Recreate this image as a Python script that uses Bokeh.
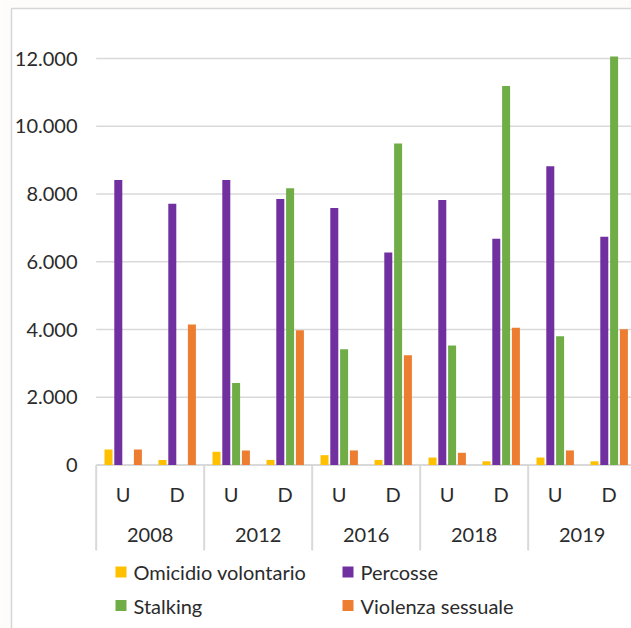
from bokeh.plotting import figure
from bokeh.models import Range1d
from bokeh.core.properties import value
from bokeh.embed import file_html
from bokeh.resources import INLINE

# --- data -------------------------------------------------------------
years = ["2008", "2012", "2016", "2018", "2019"]
sexes = ["U", "D"]
series_names = ["Omicidio volontario", "Percosse", "Stalking", "Violenza sessuale"]
series_colors = ["#FFC000", "#7030A0", "#70AD47", "#ED7D31"]

# one value per (year, sex) pair, in the order 2008U, 2008D, 2012U, ...
omicidio = [460, 150, 390, 150, 290, 150, 220, 110, 220, 110]
percosse = [8410, 7715, 8410, 7850, 7590, 6270, 7820, 6680, 8820, 6740]
stalking = [0, 0, 2420, 8170, 3420, 9490, 3530, 11190, 3800, 12060]
violenza = [460, 4150, 430, 3980, 430, 3240, 360, 4050, 430, 4010]
series_values = [omicidio, percosse, stalking, violenza]

y_ticks = [0, 2000, 4000, 6000, 8000, 10000, 12000]
y_tick_labels = ["0", "2.000", "4.000", "6.000", "8.000", "10.000", "12.000"]

# --- layout constants (pixels) ----------------------------------------
W, H = 631, 628
PX_PER_SLOT = 54.0          # width of one U/D slot
X0_PX = 95.7                # left edge of the category axis
ZERO_PX = 464.5             # pixel row of value 0
TOP_PX = 58.0               # pixel row of value 12000
K = (ZERO_PX - TOP_PX) / 12000.0

FONT = value("Lato")
FSIZE = "20px"
TXT = "#2b2b2b"
GRID = "#d9d9d9"

p = figure(
    width=W, height=H,
    x_range=Range1d(-X0_PX / PX_PER_SLOT, (W - X0_PX) / PX_PER_SLOT),
    y_range=Range1d(-(H - ZERO_PX) / K, ZERO_PX / K),
    x_axis_location=None, y_axis_location=None,
    toolbar_location=None, output_backend="svg",
    min_border=0, min_border_left=0, min_border_right=0,
    min_border_top=0, min_border_bottom=0,
)
p.outline_line_color = None
p.grid.grid_line_color = None
p.background_fill_color = "#fdfcfa"
p.border_fill_color = "#fdfcfa"
# pixel coordinate system for decorations (y grows downward)
p.extra_x_ranges = {"px": Range1d(0, W)}
p.extra_y_ranges = {"px": Range1d(H, 0)}

# chart area panel
p.quad(left=[11], right=[W + 10], top=[8], bottom=[H + 10],
       fill_color="white", line_color="#d6d6d6", line_width=1.5,
       x_range_name="px", y_range_name="px")

n_slots = len(years) * len(sexes)

# horizontal gridlines and axis line
grid_vals = y_ticks[1:]
p.segment(x0=[0] * len(grid_vals), x1=[n_slots + 1] * len(grid_vals),
          y0=grid_vals, y1=grid_vals, line_color=GRID, line_width=1.5)
p.segment(x0=[0], x1=[n_slots + 1], y0=[0], y1=[0],
          line_color=GRID, line_width=2)

# group separators below the axis
sep_x = [2 * i for i in range(len(years) + 1)]
p.segment(x0=sep_x, x1=sep_x, y0=[ZERO_PX] * len(sep_x), y1=[550] * len(sep_x),
          line_color=GRID, line_width=2, y_range_name="px")

# bars: four per slot
stride = 9.8 / PX_PER_SLOT
bar_w = 8.0 / PX_PER_SLOT
for k, (vals, col) in enumerate(zip(series_values, series_colors)):
    offs = (k - 1.5) * stride
    xs = [i + 0.5 + offs for i in range(n_slots)]
    p.vbar(x=xs, top=vals, bottom=0, width=bar_w,
           fill_color=col, line_color=None)

# y tick labels
p.text(x=[77] * len(y_ticks), y=y_ticks, text=y_tick_labels,
       text_align="right", text_baseline="middle",
       text_font=FONT, text_font_size=FSIZE, text_color=TXT,
       x_range_name="px")

# slot labels (U / D) and year labels
slot_x = [i + 0.5 for i in range(n_slots)]
slot_lbl = [s for _ in years for s in sexes]
p.text(x=slot_x, y=[493.5] * n_slots, text=slot_lbl,
       text_align="center", text_baseline="middle",
       text_font=FONT, text_font_size=FSIZE, text_color=TXT,
       y_range_name="px")
year_x = [2 * i + 1 for i in range(len(years))]
p.text(x=year_x, y=[534.5] * len(years), text=years,
       text_align="center", text_baseline="middle",
       text_font=FONT, text_font_size=FSIZE, text_color=TXT,
       y_range_name="px")

# legend (two columns, two rows)
leg_x = [115, 342, 115, 342]
leg_y = [571.5, 571.5, 605, 605]
p.rect(x=[x + 5.5 for x in leg_x], y=leg_y, width=11, height=11,
       fill_color=series_colors, line_color=None,
       x_range_name="px", y_range_name="px")
p.text(x=[x + 18 for x in leg_x], y=leg_y, text=series_names,
       text_align="left", text_baseline="middle",
       text_font=FONT, text_font_size=FSIZE, text_color=TXT,
       x_range_name="px", y_range_name="px")

open("out.html", "w").write(file_html(p, INLINE))
